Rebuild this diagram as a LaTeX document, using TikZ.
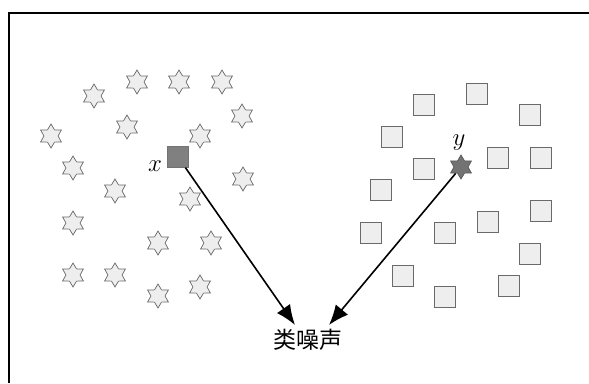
\documentclass[tikz,border=0pt]{standalone}
\usepackage{fontspec}
\newfontfamily\cjk{Noto Sans CJK SC}
\usetikzlibrary{shapes.geometric,arrows.meta}
\definecolor{lightfill}{HTML}{EEEEEE}
\definecolor{edgegray}{HTML}{6A6A6A}
\definecolor{darkfill}{HTML}{808080}
\tikzset{
  starshape/.style={star, star points=6, star point ratio=1.7, minimum size=24pt,
    inner sep=0pt, draw=edgegray, fill=lightfill, line width=0.7pt},
  sqshape/.style={rectangle, minimum size=20.5pt, inner sep=0pt, draw=edgegray,
    fill=lightfill, line width=0.7pt},
  darksq/.style={sqshape, fill=darkfill, draw=darkfill!90!black},
  darkstar/.style={starshape, fill=darkfill!90!black, draw=darkfill!70!black},
  conn/.style={line width=1.6pt, -{Latex[length=20pt,width=16pt]}},
  lab/.style={font=\fontsize{24}{28}\selectfont, inner sep=0pt}
}
\begin{document}
\begin{tikzpicture}[x=1pt,y=-1pt]
\useasboundingbox (0,0) rectangle (589,383);
\draw[line width=2.2pt] (8.7,383) -- (8.7,13) -- (589,13);
% left cluster stars
\node[starshape] (s1) at (94,96) {};
\node[starshape] (s2) at (137,82) {};
\node[starshape] (s3) at (179,82) {};
\node[starshape] (s4) at (222,82) {};
\node[starshape] (s5) at (242,116) {};
\node[starshape] (s6) at (127,127) {};
\node[starshape] (s7) at (200,136) {};
\node[starshape] (s8) at (51,136) {};
\node[starshape] (s9) at (73,168) {};
\node[starshape] (s10) at (115,191) {};
\node[starshape] (s11) at (243,179) {};
\node[starshape] (s12) at (190,199) {};
\node[starshape] (s13) at (73,223) {};
\node[starshape] (s14) at (158,243) {};
\node[starshape] (s15) at (211,243) {};
\node[starshape] (s16) at (73,275) {};
\node[starshape] (s17) at (115,275) {};
\node[starshape] (s18) at (158,296) {};
\node[starshape] (s19) at (200,287) {};
% right cluster squares
\node[sqshape] (q1) at (424,105) {};
\node[sqshape] (q2) at (477,94) {};
\node[sqshape] (q3) at (530,115) {};
\node[sqshape] (q4) at (392,137) {};
\node[sqshape] (q5) at (424,169) {};
\node[sqshape] (q6) at (498,158) {};
\node[sqshape] (q7) at (541,158) {};
\node[sqshape] (q8) at (381,190) {};
\node[sqshape] (q9) at (541,211) {};
\node[sqshape] (q10) at (488,222) {};
\node[sqshape] (q11) at (445,233) {};
\node[sqshape] (q12) at (371,233) {};
\node[sqshape] (q13) at (530,254) {};
\node[sqshape] (q14) at (403,276) {};
\node[sqshape] (q15) at (509,286) {};
\node[sqshape] (q16) at (445,297) {};
% special points
\node[darksq] (x) at (178,157) {};
\node[lab] (xl) at (155,166) {$x$};
\node[darkstar] (y) at (461,167) {};
\node[lab] (yl) at (459,143) {$y$};
% label
\node[inner sep=0pt, font=\cjk\fontsize{23}{27}\selectfont] (noise) at (308,340) {类噪声};
\coordinate (t1) at (295,325);
\coordinate (t2) at (329,325);
\draw[conn] (x) -- (t1);
\draw[conn] (y) -- (t2);
\end{tikzpicture}
\end{document}
